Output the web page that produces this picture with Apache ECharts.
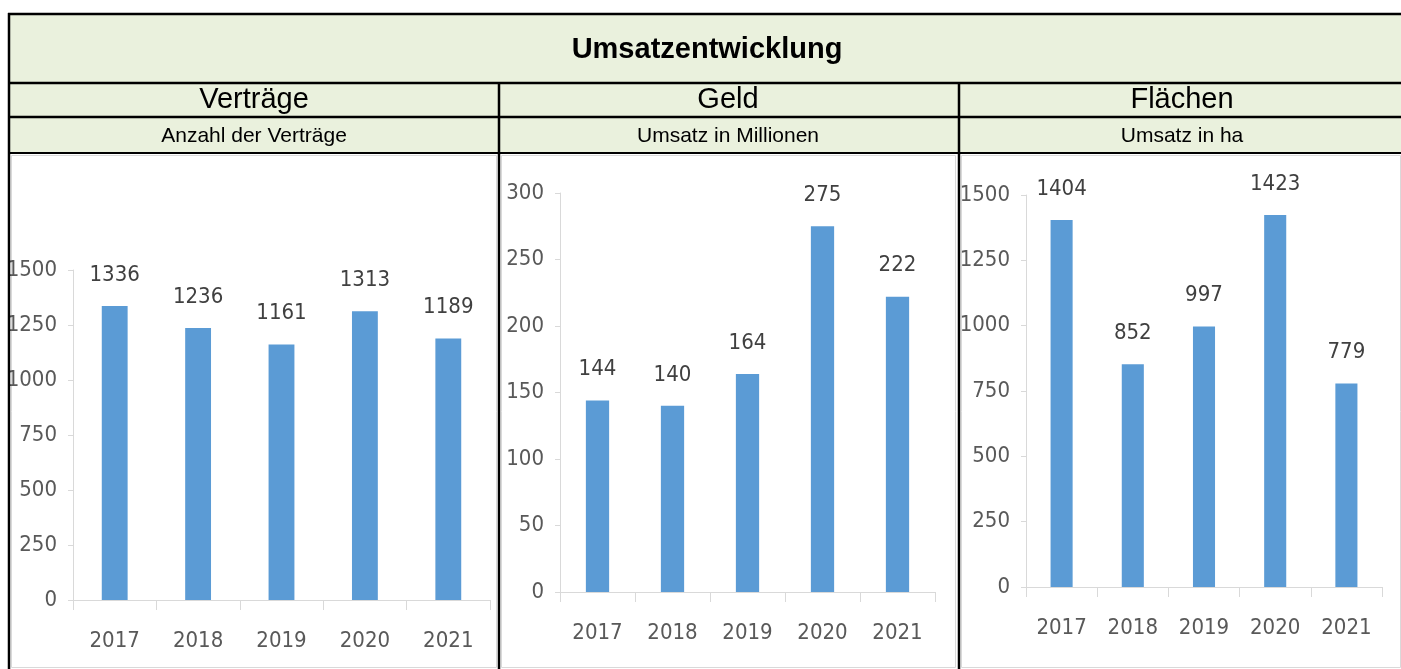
<!DOCTYPE html>
<html>
<head>
<meta charset="utf-8">
<script src="https://cdn.jsdelivr.net/npm/echarts@6/dist/echarts.min.js"></script>
<style>
  html, body { margin: 0; padding: 0; background: #fff; }
  #main { width: 1401px; height: 669px; }
</style>
</head>
<body>
<div id="main"></div>
<script>
// Daten
var years = ['2017', '2018', '2019', '2020', '2021'];
var vertraege = [1336, 1236, 1161, 1313, 1189];
var geld = [144, 140, 164, 275, 222];
var flaechen = [1404, 852, 997, 1423, 779];
// Achsen: max / Schrittweite
var axisMax = [1500, 300, 1500];
var axisStep = [250, 50, 250];

var headers = ['Verträge', 'Geld', 'Flächen'];
var subHeaders = ['Anzahl der Verträge', 'Umsatz in Millionen', 'Umsatz in ha'];

var chart = echarts.init(document.getElementById('main'));

var numFont = "'DejaVu Sans Condensed', 'Liberation Sans Narrow', sans-serif";
var numSize = 22;
var blue = '#5B9BD5';
var grey = '#D9D9D9';

// Spaltengrenzen und Plotflächen
var cols = [[10, 498], [498, 958], [958, 1406]];
var grids = [
  { left: 73, top: 270, width: 417, height: 330 },
  { left: 560, top: 193, width: 375, height: 399 },
  { left: 1026, top: 195, width: 356, height: 392 }
];
var panels = [[11, 496], [501, 955], [961, 1400]];
var allData = [vertraege, geld, flaechen];

var graphic = [
  // gruener Kopfbereich
  { type: 'rect', shape: { x: 10, y: 14, width: 1391, height: 140 }, style: { fill: '#EAF1DD' }, z: 0 },
  { type: 'text', style: { text: 'Umsatzentwicklung', x: 707, y: 50, align: 'center', verticalAlign: 'middle',
      font: "bold 29px 'Liberation Sans', Arial, sans-serif", fill: '#000' }, z: 5 }
];

panels.forEach(function (p) {
  graphic.push({ type: 'rect', shape: { x: p[0] + 0.5, y: 155.5, width: p[1] - p[0], height: 512 },
    style: { fill: '#fff', stroke: grey, lineWidth: 1 }, z: 0 });
});

cols.forEach(function (c, i) {
  var cx = (c[0] + c[1]) / 2;
  graphic.push({ type: 'text', style: { text: headers[i], x: cx, y: 100, align: 'center', verticalAlign: 'middle',
      font: "29px 'Liberation Sans', Arial, sans-serif", fill: '#000' }, z: 5 });
  graphic.push({ type: 'text', style: { text: subHeaders[i], x: cx, y: 136, align: 'center', verticalAlign: 'middle',
      font: "21px 'Liberation Sans', Arial, sans-serif", fill: '#000' }, z: 5 });
});

// schwarze Linien
[[8, 14, 1401, 14], [8, 83, 1401, 83], [8, 117, 1401, 117], [8, 153, 1401, 153],
 [9, 13, 9, 669], [499, 83, 499, 669], [959, 83, 959, 669]].forEach(function (l, i) {
  graphic.push({ type: 'line', shape: { x1: l[0], y1: l[1], x2: l[2], y2: l[3] },
    style: { stroke: '#000', lineWidth: i === 3 ? 2 : 2.5 }, z: 6 });
});

var xAxis = [], yAxis = [], series = [];
grids.forEach(function (g, i) {
  xAxis.push({
    type: 'category', gridIndex: i, data: years,
    axisLine: { lineStyle: { color: grey, width: 1 } },
    axisTick: { show: true, length: 10, lineStyle: { color: grey } },
    axisLabel: { color: '#595959', fontSize: numSize, fontFamily: numFont, margin: 30, interval: 0 }
  });
  yAxis.push({
    type: 'value', gridIndex: i, min: 0, max: axisMax[i], interval: axisStep[i],
    axisLine: { show: true, lineStyle: { color: grey, width: 1 } },
    axisTick: { show: true, length: 5, lineStyle: { color: grey } },
    splitLine: { show: false },
    axisLabel: { color: '#595959', fontSize: numSize, fontFamily: numFont, margin: 16,
      formatter: function (v) { return String(v); } }
  });
  series.push({
    type: 'bar', xAxisIndex: i, yAxisIndex: i, data: allData[i],
    barWidth: '31%',
    itemStyle: { color: blue },
    label: { show: true, position: 'top', distance: 20, color: '#404040', fontSize: numSize, fontFamily: numFont }
  });
});

chart.setOption({
  animation: false,
  grid: grids,
  xAxis: xAxis,
  yAxis: yAxis,
  series: series,
  graphic: graphic
});
</script>
</body>
</html>
